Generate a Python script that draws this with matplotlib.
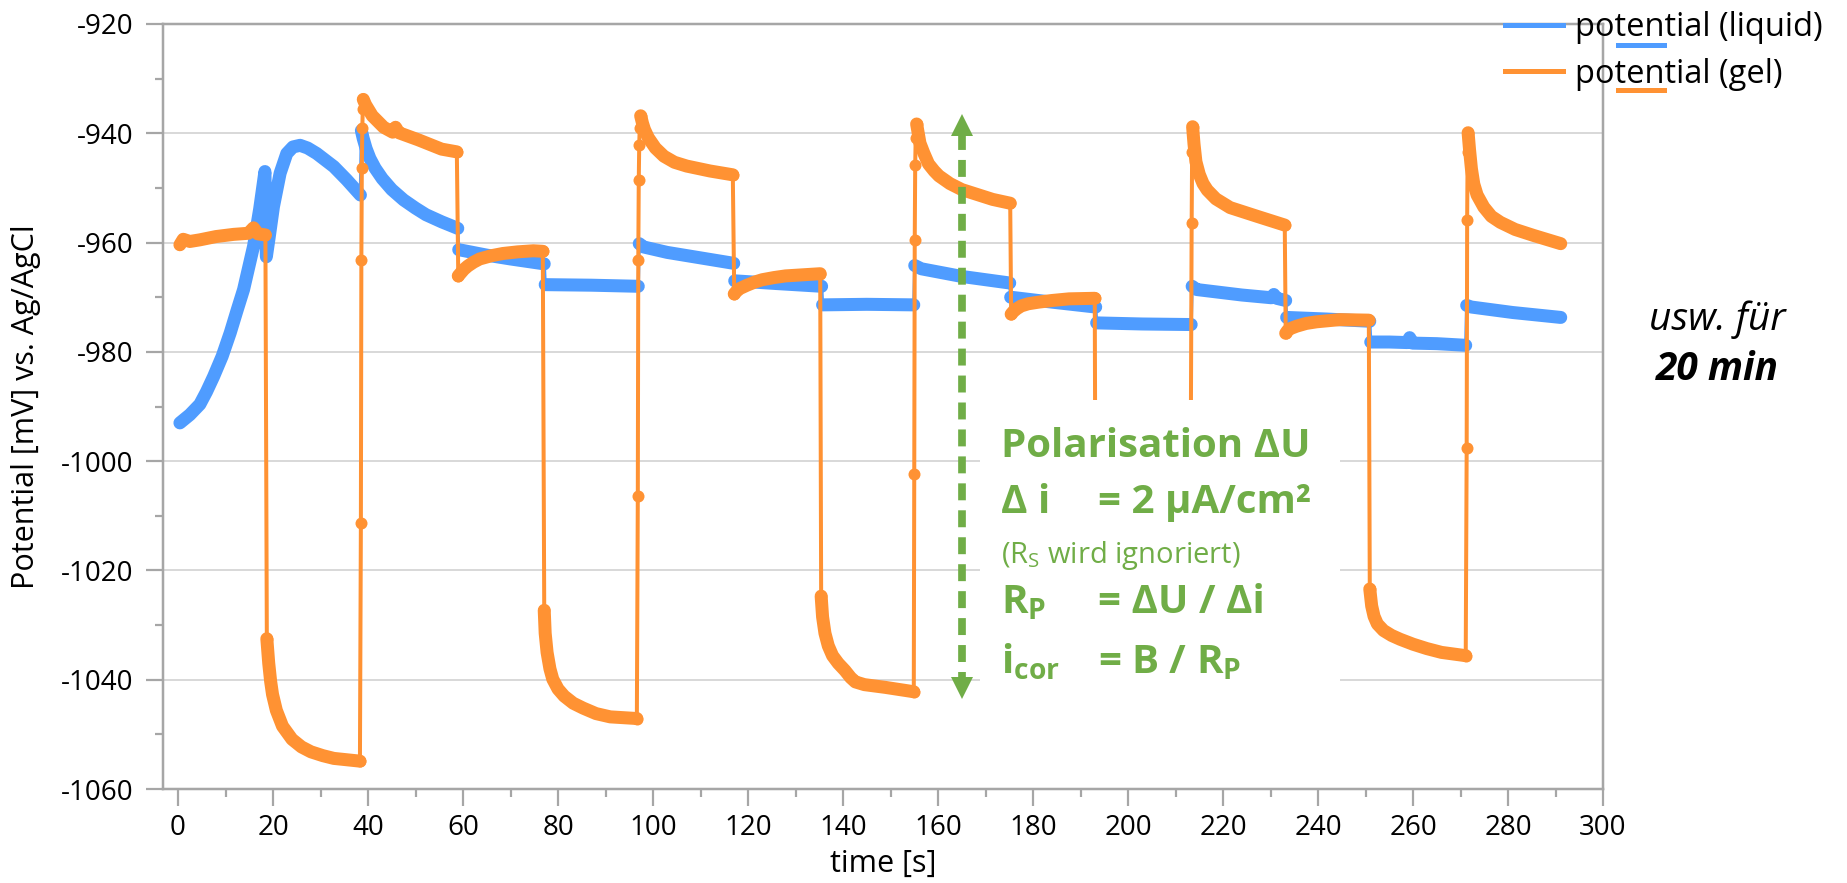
import matplotlib
matplotlib.use("Agg")
import matplotlib.pyplot as plt
import numpy as np
from matplotlib.lines import Line2D
from matplotlib.patches import Rectangle
from matplotlib.ticker import MultipleLocator

N = np.nan

# ---------------- data ----------------
liquid_t = [0.4, 2.5, 4.6, 6.0, 7.5, 9.3, 11.0, 12.4, 13.8, 15.9, 17.2, 18.3, 18.6, 19.2, 20.1, 21.5,
            22.9, 24.2, 25.7, 27.3, 29.2, 32.8, 35.5, 38.4, N,
            38.6, 39.0, 39.6, 40.4, 41.5, 43.0, 45.0, 47.5, 50.0, 52.2, 55.5, 58.9, N,
            59.1, 65.0, 70.0, 77.1, N,
            77.3, 87.0, 96.9, N,
            97.1, 98.0, 103.0, 110.0, 117.0, N,
            117.2, 126.0, 135.5, N,
            135.7, 145.0, 154.9, N,
            155.1, 156.5, 165.0, 175.1, N,
            175.3, 184.0, 193.2, N,
            193.4, 203.0, 213.3, N,
            213.5, 214.5, 224.0, 230.2, 230.7, 231.3, 233.2, N,
            233.4, 242.0, 250.9, N,
            251.1, 255.0, 258.8, 259.3, 259.9, 265.0, 271.1, N,
            271.3, 272.3, 281.0, 291.1]
liquid_v = [-993.0, -991.5, -989.6, -987.3, -984.5, -980.8, -976.5, -972.5, -968.6, -960.7, -953.8, -947.0,
            -962.6, -959.0, -953.4, -947.3, -943.7, -942.5, -942.2, -942.7, -943.7, -946.1, -948.5, -951.3, N,
            -939.5, -941.0, -942.8, -944.6, -946.4, -948.3, -950.3, -952.2, -953.7, -954.9, -956.2, -957.4, N,
            -961.3, -962.3, -963.0, -963.9, N,
            -967.7, -967.8, -968.0, N,
            -960.2, -960.8, -961.8, -962.8, -963.8, N,
            -967.0, -967.5, -968.0, N,
            -971.4, -971.3, -971.4, N,
            -964.2, -964.8, -966.2, -967.4, N,
            -970.0, -970.9, -971.8, N,
            -974.7, -974.9, -975.0, N,
            -968.0, -968.6, -969.6, -970.1, -969.5, -970.2, -970.6, N,
            -973.7, -974.0, -974.4, N,
            -978.2, -978.2, -978.3, -977.4, -978.4, -978.5, -978.8, N,
            -971.5, -971.8, -972.8, -973.7]

gel_t = [0.4, 1.1, 2.5, 4.6, 8.0, 11.7, 14.8, 15.9, 16.8, 18.4, N,
         18.7, 19.1, 19.5, 19.9, 20.7, 22.0, 24.0, 26.0, 28.0, 30.5, 32.8, 38.3, N,
         39.0, 39.5, 40.9, 43.3, 45.2, 45.8, 46.5, 50.6, 55.5, 58.7, N,
         59.0, 59.5, 60.2, 61.0, 62.2, 63.5, 66.0, 68.4, 71.5, 74.8, 76.8, N,
         77.1, 77.3, 77.7, 78.3, 78.9, 80.0, 81.3, 83.2, 85.3, 88.0, 91.0, 96.6, N,
         97.4, 97.8, 98.2, 99.0, 100.5, 102.3, 104.5, 107.1, 112.0, 116.8, N,
         117.1, 117.6, 118.3, 119.8, 121.5, 123.0, 125.5, 127.9, 131.5, 135.2, N,
         135.4, 135.7, 136.2, 136.9, 137.8, 139.0, 140.4, 141.6, 142.6, 144.5, 148.9, 154.9, N,
         155.5, 155.8, 156.2, 157.0, 158.0, 159.2, 160.2, 162.5, 165.0, 171.5, 175.2, N,
         175.4, 175.9, 176.6, 177.5, 179.0, 181.2, 184.0, 187.6, 193.0, N,
         193.2, 194.0, 196.0, 200.0, 206.0, 213.1, N,
         213.6, 213.9, 214.3, 215.0, 215.8, 216.7, 218.5, 221.5, 227.2, 233.0, N,
         233.2, 233.6, 234.3, 235.5, 237.5, 239.7, 244.6, 250.7, N,
         250.9, 251.3, 251.8, 252.5, 253.8, 255.5, 257.3, 260.0, 262.9, 266.0, 271.1, N,
         271.6, 271.9, 272.3, 272.8, 273.5, 274.9, 276.5, 278.4, 281.5, 285.4, 291.1]
gel_v = [-960.4, -959.4, -959.8, -959.5, -958.9, -958.5, -958.3, -957.3, -958.4, -958.6, N,
         -1032.5, -1037.0, -1040.3, -1042.7, -1045.6, -1048.5, -1050.9, -1052.3, -1053.2, -1053.9, -1054.4, -1054.9, N,
         -933.8, -934.8, -936.8, -938.9, -939.8, -938.9, -939.9, -941.2, -942.9, -943.4, N,
         -966.1, -965.6, -964.9, -964.3, -963.6, -963.0, -962.4, -962.0, -961.7, -961.5, -961.6, N,
         -1027.3, -1031.5, -1035.0, -1038.0, -1039.9, -1041.7, -1043.0, -1044.3, -1045.2, -1046.2, -1046.8, -1047.1, N,
         -936.8, -938.2, -939.3, -940.8, -942.7, -944.2, -945.3, -946.0, -946.9, -947.6, N,
         -969.4, -968.9, -968.4, -967.8, -967.2, -966.8, -966.4, -966.1, -965.9, -965.7, N,
         -1024.7, -1028.5, -1031.5, -1033.8, -1035.6, -1037.0, -1038.3, -1039.6, -1040.4, -1040.9, -1041.4, -1042.2, N,
         -938.3, -939.8, -941.8, -943.6, -945.6, -946.9, -947.8, -949.2, -950.3, -952.1, -952.8, N,
         -973.1, -972.6, -972.1, -971.6, -971.2, -970.9, -970.6, -970.3, -970.2, N,
         -1028.0, -1034.0, -1039.0, -1042.0, -1043.5, -1044.0, N,
         -938.8, -942.0, -945.2, -947.5, -949.2, -950.4, -952.0, -953.6, -955.2, -956.8, N,
         -976.6, -976.1, -975.7, -975.3, -974.8, -974.5, -974.1, -974.2, N,
         -1023.4, -1026.5, -1028.4, -1029.8, -1031.0, -1031.9, -1032.6, -1033.5, -1034.3, -1035.0, -1035.6, N,
         -939.9, -943.0, -946.5, -949.3, -951.3, -953.5, -955.2, -956.3, -957.6, -958.7, -960.2]

# sparse samples on the current switching steps of the gel series
gel_step_t = [18.4, 18.7, N,
              38.3, 38.5, 38.6, 38.7, 38.8, 38.9, 39.0, N,
              58.7, 59.0, N,
              76.8, 77.1, N,
              96.6, 96.8, 96.9, 97.0, 97.1, 97.2, 97.4, N,
              116.8, 117.1, N,
              135.2, 135.4, N,
              154.9, 155.0, 155.1, 155.2, 155.3, 155.5, N,
              175.2, 175.4, N,
              193.0, 193.2, N,
              213.1, 213.2, 213.4, 213.5, 213.6, N,
              233.0, 233.2, N,
              250.7, 250.9, N,
              271.1, 271.3, 271.4, 271.5, 271.6]
gel_step_v = [-958.6, -1032.5, N,
              -1054.9, -1011.3, -963.2, -946.3, -939.0, -935.5, -933.8, N,
              -943.4, -966.1, N,
              -961.6, -1027.3, N,
              -1047.1, -1006.3, -963.1, -948.6, -942.1, -939.0, -936.8, N,
              -947.6, -969.4, N,
              -965.7, -1024.7, N,
              -1042.2, -1002.4, -959.6, -945.8, -940.8, -938.3, N,
              -952.8, -973.1, N,
              -970.2, -1028.0, N,
              -1044.0, -1000.5, -956.5, -943.4, -938.8, N,
              -956.8, -976.6, N,
              -974.2, -1023.4, N,
              -1035.6, -997.6, -955.9, -943.4, -939.9]

series_labels = ["potential (liquid)", "potential (gel)"]
x_label = "time [s]"
y_label = "Potential [mV] vs. Ag/AgCl"

# polarisation arrow (data units)
arrow_t = 165.0
arrow_top = -936.4
arrow_bottom = -1043.5

# ---------------- style ----------------
BLUE = "#4F9CFF"
ORANGE = "#FF9233"
GREEN = "#70AD47"
AXC = "#A6A6A6"
GRIDC = "#D9D9D9"
FONT = "Open Sans"

plt.rcParams["font.family"] = [FONT, "DejaVu Sans"]
plt.rcParams["axes.unicode_minus"] = False
plt.rcParams["mathtext.fontset"] = "custom"
plt.rcParams["mathtext.rm"] = FONT
plt.rcParams["mathtext.bf"] = FONT + ":bold"
plt.rcParams["mathtext.it"] = FONT + ":italic"

W, H = 1847, 883
fig = plt.figure(figsize=(W / 100, H / 100), dpi=100)
L, R, T, B = 163, 1603, 24, 789
ax = fig.add_axes([L / W, 1 - B / H, (R - L) / W, (B - T) / H])

PX = 0.72  # points per pixel at dpi 100

lt = np.array(liquid_t, float); lv = np.array(liquid_v, float)
gt = np.array(gel_t, float); gv = np.array(gel_v, float)
st = np.array(gel_step_t, float); sv = np.array(gel_step_v, float)

ok = ~np.isnan(lt)
ax.plot(lt[ok], lv[ok], color=BLUE, lw=3.3 * PX, zorder=2, solid_capstyle="round")
ax.plot(lt, lv, color=BLUE, lw=13 * PX, zorder=2.1, solid_capstyle="round", solid_joinstyle="round")
ax.plot(st, sv, color=ORANGE, lw=4 * PX, zorder=3, marker="o", ms=12 * PX, mew=0)
ax.plot(gt, gv, color=ORANGE, lw=13 * PX, zorder=3.2, solid_capstyle="round", solid_joinstyle="round")

ax.set_xlim(-3.16, 300)
ax.set_ylim(-1060, -920)
ax.xaxis.set_major_locator(MultipleLocator(20))
ax.xaxis.set_minor_locator(MultipleLocator(10))
ax.yaxis.set_major_locator(MultipleLocator(20))
ax.yaxis.set_minor_locator(MultipleLocator(10))
ax.grid(True, which="major", axis="y", color=GRIDC, lw=2 * PX)
ax.set_axisbelow(True)
for s in ["left", "bottom", "right", "top"]:
    ax.spines[s].set_color(AXC)
    ax.spines[s].set_linewidth(2.5 * PX)
ax.tick_params(which="major", length=17 * PX, width=2.2 * PX, color=AXC, labelsize=20, pad=6)
ax.tick_params(which="minor", length=8 * PX, width=2.2 * PX, color=AXC)
ax.tick_params(axis="y", which="both", right=False)
ax.tick_params(axis="y", pad=9)

ax.set_xlabel(x_label, fontsize=22, va="center")
ax.xaxis.set_label_coords(0.5, -(864 - B) / (B - T))
ax.set_ylabel(y_label, fontsize=22, va="center")
ax.yaxis.set_label_coords(-(L - 26) / (R - L), 0.5)

# white text box of the annotation (covers grid and hidden trace)
box = Rectangle((168.8, -1052.0), 244.6 - 168.8, -988.8 + 1052.0, facecolor="white",
                edgecolor="none", zorder=5)
ax.add_patch(box)

# green dashed double arrow
head_px = 22
half = head_px / 2 / ((B - T) / 140.0)
ax.plot([arrow_t, arrow_t], [arrow_top - 2 * half + 0.5, arrow_bottom + 2 * half - 0.5], color=GREEN,
        lw=7.7 * PX, dashes=(2.2, 1.3), solid_capstyle="butt", dash_capstyle="butt", zorder=7)
ax.plot([arrow_t], [arrow_top - half], marker="^", ms=head_px * PX, color=GREEN, mew=0, zorder=7.1)
ax.plot([arrow_t], [arrow_bottom + half], marker="v", ms=head_px * PX, color=GREEN, mew=0, zorder=7.1)


def ftext(x, y, s, **kw):
    return fig.text(x / W, 1 - y / H, s, **kw)


tk = dict(color=GREEN, va="baseline", ha="left", zorder=8)
ftext(1001, 457, "Polarisation ΔU", fontsize=29, fontweight="bold", **tk)
ftext(1001, 513, "Δ i", fontsize=29, fontweight="bold", **tk)
ftext(1098, 513, "= 2 µA/cm²", fontsize=29, fontweight="bold", **tk)
ftext(1001, 563, r"($\mathrm{R_S}$ wird ignoriert)", fontsize=21, **tk)
ftext(1001, 613, r"$\mathbf{R_P}$", fontsize=29, **tk)
ftext(1098, 613, "= ΔU / Δi", fontsize=29, fontweight="bold", **tk)
ftext(1001, 673, r"$\mathbf{i_{cor}}$", fontsize=29, **tk)
ftext(1098, 673, r"= B / $\mathbf{R_P}$", fontsize=29, fontweight="bold", **tk)

ftext(1717, 330, "usw. für", fontsize=28, style="italic", ha="center", va="baseline")
ftext(1717, 380, "20 min", fontsize=28, style="italic", fontweight="bold", ha="center", va="baseline")

# legend
LFS = 23.5
fpx = LFS / PX
handles = [Line2D([], [], color=BLUE, lw=5 * PX), Line2D([], [], color=ORANGE, lw=5 * PX)]
leg = fig.legend(handles, series_labels, loc="upper left", bbox_to_anchor=(1505 / W, 1 - 11.5 / H),
                 frameon=False, fontsize=LFS, handlelength=58 / fpx, handletextpad=12 / fpx,
                 borderpad=0, borderaxespad=0, labelspacing=0.41)
leg2 = fig.legend(handles, ["", ""], loc="upper left", bbox_to_anchor=(1618 / W, 1 - 31 / H),
                  frameon=False, fontsize=LFS, handlelength=46 / fpx, handletextpad=0,
                  borderpad=0, borderaxespad=0, labelspacing=0.37)

fig.savefig("out.png", dpi=100)
